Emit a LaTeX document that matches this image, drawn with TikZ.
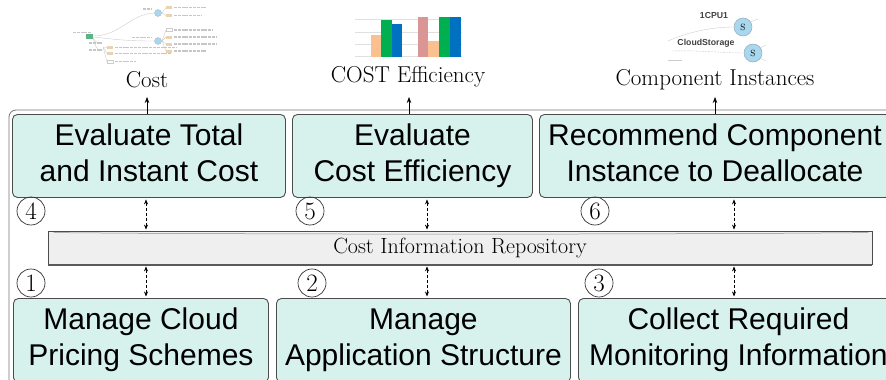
\documentclass[tikz,border=0pt]{standalone}
\usepackage{fontspec}
\newfontfamily\sansf{Liberation Sans}
\usetikzlibrary{arrows.meta,calc}
\definecolor{boxfill}{HTML}{D7F2EC}
\definecolor{repofill}{HTML}{EFEFEF}
\definecolor{barorange}{HTML}{FAC090}
\definecolor{bargreen}{HTML}{00B050}
\definecolor{barblue}{HTML}{0070C0}
\definecolor{barpink}{HTML}{D99694}
\definecolor{nodeblue}{HTML}{A9D7EE}
\definecolor{treegreen}{HTML}{5DB287}
\definecolor{treetan}{HTML}{E9D3B0}
\begin{document}
\begin{tikzpicture}[x=1pt,y=-1pt,
  task/.style={draw=black!70, fill=boxfill, rounded corners=5pt, line width=0.9pt,
    anchor=north west, inner sep=0pt, align=center,
    font=\sansf\fontsize{30}{36}\selectfont},
  repo/.style={draw=black!70, fill=repofill, line width=0.8pt, inner sep=0pt,
    minimum width=824pt, minimum height=33pt, font=\fontsize{22}{26}\selectfont},
  num/.style={circle, draw=black!80, line width=0.7pt, inner sep=0pt,
    minimum size=28pt, font=\fontsize{25}{25}\selectfont},
  label/.style={anchor=base, inner sep=0pt, font=\fontsize{23}{27}\selectfont},
  link/.style={{Stealth[length=5pt,width=4pt]}-{Stealth[length=5pt,width=4pt]},
    dash pattern=on 3pt off 2pt, line width=0.7pt, shorten <=1.5pt, shorten >=1.5pt},
  up/.style={-{Stealth[length=6pt,width=4.5pt]}, line width=0.7pt},
  txtbar/.style={line width=1.3pt, gray!45, dash pattern=on 3pt off 0.8pt},
  faint/.style={line width=0.4pt, gray!40},
  inst/.style={circle, draw=nodeblue!70!black!80, fill=nodeblue, line width=0.5pt,
    minimum size=18pt, inner sep=0pt, font=\fontsize{9}{9}\selectfont},
  instname/.style={inner sep=0pt, text=black!75, font=\sansf\bfseries\fontsize{8.7}{9}\selectfont}
]
\path[use as bounding box, clip] (0,0) rectangle (886,380);

% outer frame of the cost component
\draw[black!55, line width=0.8pt, rounded corners=7pt] (9,110) rectangle (905,400);

% ---- thumbnail: cost tree ----
\draw[faint] (93,36) .. controls (120,36) and (130,14) .. (154,13);
\draw[faint] (93,37) .. controls (120,40) and (130,41) .. (154,41);
\draw[faint] (93,38) .. controls (96,42) .. (98,43);
\draw[faint] (93,38) .. controls (96,47) .. (98,50);
\foreach \yy in {7.5,15.5} \draw[faint] (162,13) -- (166,\yy);
\foreach \yy in {30,37,44,51} \draw[faint] (162,41) -- (166,\yy);
\foreach \yy in {47.5,53.5,61.5} \draw[faint] (103,47) -- (107,\yy);
\fill[treegreen] (86,34) rectangle (93,39);
\draw[txtbar] (73,32.5) -- (92,32.5);
\filldraw[fill=nodeblue, draw=nodeblue!60!black!60, line width=0.3pt] (158,13) circle (3.5);
\filldraw[fill=nodeblue, draw=nodeblue!60!black!60, line width=0.3pt] (158,41) circle (3.5);
\draw[txtbar] (143,9) -- (152,9);
\draw[txtbar] (132,37.5) -- (152,37.5);
\fill[treetan] (166,6) rectangle (172,9);
\fill[treetan] (166,14) rectangle (172,17);
\draw[txtbar] (174,7.5) -- (206,7.5);
\draw[txtbar] (174,15.5) -- (201,15.5);
\draw[gray!40, line width=0.3pt] (166,28.5) rectangle (172,31.5);
\fill[treetan] (166,35.5) rectangle (172,38.5);
\fill[treetan] (166,42.5) rectangle (172,45.5);
\fill[treetan] (166,49.5) rectangle (172,52.5);
\draw[txtbar] (174,30) -- (213,30);
\draw[txtbar] (174,37) -- (216,37);
\draw[txtbar] (174,44) -- (216,44);
\draw[txtbar] (174,51) -- (206,51);
\draw[txtbar] (89,43) -- (102,43);
\draw[txtbar] (89,50) -- (102,50);
\fill[treetan] (107,46) rectangle (113,49);
\fill[treetan] (107,52) rectangle (113,55);
\draw[gray!40, line width=0.3pt] (107,60) rectangle (113,63);
\draw[txtbar] (115,47.5) -- (176,47.5);
\draw[txtbar] (115,53.5) -- (171,53.5);
\draw[txtbar] (115,61.5) -- (136,61.5);

% ---- thumbnail: efficiency bar chart ----
\foreach \yy in {19,32,44,56} \draw[gray!25, line width=0.8pt] (355,\yy) -- (462,\yy);
\fill[barorange] (371,35) rectangle (381,57);
\fill[bargreen]  (381,20) rectangle (392,57);
\fill[barblue]   (392,24) rectangle (402,57);
\fill[barpink]   (418,17) rectangle (428,57);
\fill[barorange] (428,41) rectangle (439,57);
\fill[bargreen]  (439,17) rectangle (450,57);
\fill[barblue]   (450,17) rectangle (461,57);

% ---- thumbnail: component instances ----
\draw[faint] (668,41) .. controls (690,31) and (715,27) .. (734,27);
\draw[faint, dash pattern=on 2pt off 1pt] (672,51) .. controls (695,50) and (725,53) .. (744,53);
\draw[faint] (668,60) -- (682,60);
\draw[faint] (750,22) -- (758,19);
\draw[faint] (760,48) -- (766,45);
\draw[faint] (760,58) -- (766,61);
\node[inst] (s1) at (743,27) {S};
\node[inst] (s2) at (753,53) {S};
\node[instname] (i1) at (714,16) {1CPU1};
\node[instname] (i2) at (706,43) {CloudStorage};

% ---- output labels ----
\node[label] (lcost) at (147,87) {Cost};
\node[label] (leff) at (408,82) {COST Efficiency};
\node[label] (linst) at (715,85) {Component Instances};

% ---- activities ----
\node[task, minimum width=273pt, minimum height=83pt] (b4) at (12,114)
  {\strut Evaluate Total\\and Instant Cost\strut};
\node[task, minimum width=240pt, minimum height=83pt] (b5) at (292,114)
  {\strut Evaluate\\Cost Efficiency\strut};
\node[task, minimum width=351pt, minimum height=83pt] (b6) at (539,114)
  {\strut Recommend Component\\Instance to Deallocate\strut};
\node[task, minimum width=255pt, minimum height=84pt] (b1) at (13,298)
  {\strut Manage Cloud\\Pricing Schemes\strut};
\node[task, minimum width=294pt, minimum height=84pt] (b2) at (276,298)
  {\strut Manage\\Application Structure\strut};
\node[task, minimum width=320pt, minimum height=84pt] (b3) at (578,298)
  {\strut Collect Required\\Monitoring Information\strut};

% ---- repository ----
\node[repo] (repo) at (460,248) {Cost Information Repository};
\draw[black!65, line width=1.3pt] (repo.south west) -- (repo.south east);
\draw[black!45, line width=0.5pt] ($(repo.north west)+(6,1.5)$)
  .. controls ($(repo.north)+(-200,3.5)$) and ($(repo.north)+(200,3.5)$) .. ($(repo.north east)+(-4,1.5)$);

% ---- step numbers ----
\node[num] (n4) at (31,211) {4};
\node[num] (n5) at (310,211) {5};
\node[num] (n6) at (595,211) {6};
\node[num] (n1) at (31,283) {1};
\node[num] (n2) at (312,283) {2};
\node[num] (n3) at (599,283) {3};

% ---- connector positions ----
\coordinate (x1) at (146,0);
\coordinate (x2) at (427,0);
\coordinate (x3) at (734,0);
\coordinate (t4) at (147,97);
\coordinate (t5) at (409,97);
\coordinate (t6) at (715,97);

% ---- connectors ----
\draw[link] (b4.south -| x1) -- (repo.north -| x1);
\draw[link] (b5.south -| x2) -- (repo.north -| x2);
\draw[link] (b6.south -| x3) -- (repo.north -| x3);
\draw[link] (repo.south -| x1) -- (b1.north -| x1);
\draw[link] (repo.south -| x2) -- (b2.north -| x2);
\draw[link] (repo.south -| x3) -- (b3.north -| x3);
\draw[up] (b4.north -| t4) -- (t4);
\draw[up] (b5.north -| t5) -- (t5);
\draw[up] (b6.north -| t6) -- (t6);
\end{tikzpicture}
\end{document}
